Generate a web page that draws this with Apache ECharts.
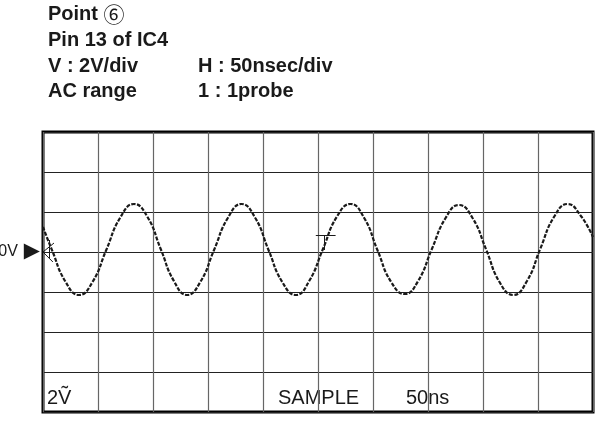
<!DOCTYPE html>
<html>
<head>
<meta charset="utf-8">
<script src="https://cdn.jsdelivr.net/npm/echarts@6/dist/echarts.min.js"></script>
<style>
  html, body { margin: 0; padding: 0; background: #fff; }
  #chart { width: 605px; height: 431px; }
</style>
</head>
<body>
<div id="chart"></div>
<script>
// 波形数据 (ns, V)
const timeNs = [0, 8, 20.4, 32.7, 45, 57.5, 70, 82.7, 95, 107, 119, 131, 143, 155.5, 168, 180.5, 193, 205,
    217.5, 230, 242, 254.5, 267, 279.5, 292, 304, 316.5, 329, 341, 353.5, 366, 378, 390.5, 403,
    415, 427.5, 440, 452, 464.5, 477, 489, 500];
const volts = [1.25, 0.12, -1.48, -2.15, -1.5, 0.1, 1.7, 2.4, 1.75, 0.15, -1.45, -2.15, -1.5, 0.1, 1.7, 2.4, 1.7, 0.1,
    -1.5, -2.15, -1.45, 0.15, 1.75, 2.4, 1.7, 0.1, -1.5, -2.1, -1.45, 0.15, 1.7, 2.35, 1.7, 0.1,
    -1.5, -2.15, -1.45, 0.15, 1.75, 2.4, 1.8, 0.75];

// 刻度
const timeRange = [0, 500];
const timeStep = 50;
const voltRange = [-8, 6];
const voltStep = 2;

// 触发标记 / 接地标记
const triggerTime = [248, 256, 266];
const triggerLevel = [0.85, 0.1];
const groundMark = [[0, 0], [10, 0.45], [0, 0], [9, -0.5], [6, 0.6], [6, -0.3]];

// 文字
const headerLeft = ['Point {c|⑥}', 'Pin 13 of IC4', 'V : 2V/div', 'AC range'];
const headerRight = ['', '', 'H : 50nsec/div', '1 : 1probe'];
const footer = ['2Ṽ', 'SAMPLE', '50ns'];

const font = '"Liberation Sans", Arial, sans-serif';
const headerY = [14, 40, 66, 91];

const graphic = [];
headerLeft.forEach((t, i) => {
    graphic.push({
        type: 'text', left: 48, top: headerY[i] - 10,
        style: {
            text: t, font: `bold 20px ${ font }`, fill: '#1a1a1a',
            rich: { c: { fontFamily: '"Noto Sans CJK JP", sans-serif', fontWeight: 'normal', fontSize: 21, fill: '#1a1a1a' } },
        },
    });
    if (headerRight[i]) {
        graphic.push({
            type: 'text', left: 198, top: headerY[i] - 10,
            style: { text: headerRight[i], font: `bold 20px ${ font }`, fill: '#1a1a1a' },
        });
    }
});
const footerX = [47, 278, 406];
footer.forEach((t, i) => {
    graphic.push({
        type: 'text', left: footerX[i], top: 388,
        style: { text: t, font: `20px ${ font }`, fill: '#1a1a1a' },
    });
});

const instance = echarts.init(document.querySelector('#chart'));
instance.setOption({
    animation: false,
    grid: {
        left: 43, right: 12, top: 132, bottom: 19,
        outerBoundsMode: 'none',
        show: true, borderColor: '#000', borderWidth: 3,
    },
    xAxis: {
        type: 'value',
        min: timeRange[0], max: timeRange[1], interval: timeStep,
        axisLine: { show: false }, axisTick: { show: false }, axisLabel: { show: false },
        splitLine: { show: true, lineStyle: { color: '#666', width: 1.2 } },
    },
    yAxis: {
        type: 'value',
        min: voltRange[0], max: voltRange[1], interval: voltStep,
        axisLine: { show: false }, axisTick: { show: false },
        splitLine: { show: true, lineStyle: { color: '#222', width: 1.2 } },
        axisLabel: {
            margin: 3,
            formatter: v => v === 0 ? '{a|0V}{t|▶}' : '',
            rich: {
                a: { fontFamily: font, fontSize: 16, color: '#1a1a1a' },
                t: { fontFamily: '"DejaVu Sans", sans-serif', fontSize: 21, color: '#1a1a1a', padding: [0, 0, 0, 6] },
            },
        },
    },
    graphic,
    series: [
        {
            type: 'line',
            data: timeNs.map((t, i) => [t, volts[i]]),
            smooth: true,
            showSymbol: false,
            lineStyle: { color: '#1a1a1a', width: 2.2, type: [4, 1.5] },
            markLine: {
                silent: true,
                symbol: 'none',
                label: { show: false },
                lineStyle: { color: '#1a1a1a', width: 1, type: 'solid' },
                data: [
                    [{ coord: [triggerTime[0], triggerLevel[0]] }, { coord: [triggerTime[2], triggerLevel[0]] }],
                    [{ coord: [triggerTime[1], triggerLevel[0]] }, { coord: [triggerTime[1], triggerLevel[1]] }],
                    [{ coord: groundMark[0] }, { coord: groundMark[1] }],
                    [{ coord: groundMark[2] }, { coord: groundMark[3] }],
                    [{ coord: groundMark[4] }, { coord: groundMark[5] }],
                ],
            },
        },
    ],
});
</script>
</body>
</html>
